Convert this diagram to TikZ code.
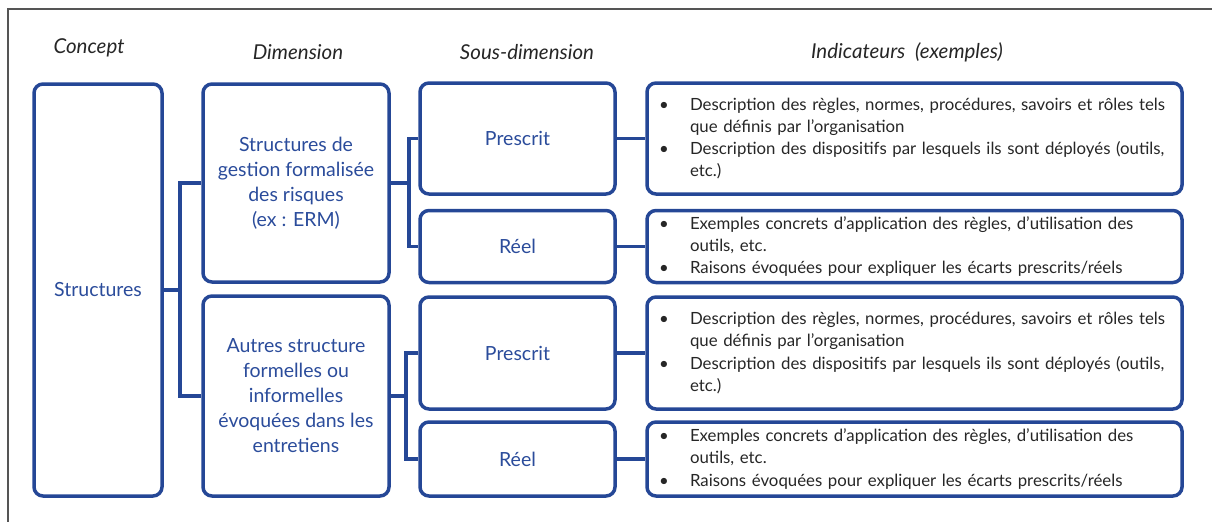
\documentclass[tikz,border=0pt]{standalone}
\usepackage{fontspec}
\setmainfont{Lato}
\definecolor{bleu}{HTML}{254796}
\definecolor{texte}{HTML}{2B4C9B}
\definecolor{gris}{HTML}{555555}
\definecolor{noir}{HTML}{262626}
\newcommand{\puce}{\makebox[31pt][l]{\textbullet}}
\newcommand{\suite}{\hspace*{31pt}}

\begin{document}
\begin{tikzpicture}[x=1pt, y=-1pt,
    boite/.style={draw=bleu, line width=3.5pt, rounded corners=9pt, text=texte,
      align=center, inner sep=0pt, font=\fontsize{19.5}{25}\selectfont},
    indic/.style={draw=bleu, line width=3.5pt, rounded corners=9pt, text=noir,
      align=left, text width=511pt, inner xsep=12pt, inner ysep=0pt,
      font=\fontsize{16.8}{22.3}\selectfont},
    titre/.style={text=noir, font=\fontsize{20.5}{24}\selectfont\itshape},
    lien/.style={draw=bleu, line width=3.5pt}]
    \useasboundingbox (0,0) rectangle (1212,522);

    % draw frame
    \draw[gris, line width=2pt] (1212,9) -- (8,9) -- (8,522);

    % draw column titles
    \foreach \n/\x/\y/\t in {tconcept/89/48/Concept, tdim/298/52/Dimension,
        tsous/527/52/Sous-dimension, tind/907/52/{Indicateurs~ (exemples)}}
      \node[titre] (\n) at (\x,\y) {\t};

    % draw concept and dimensions
    \node[boite, minimum width=128pt, minimum height=412pt] (concept) at (98,290) {Structures};
    \node[boite, minimum width=186pt, minimum height=198pt] (dim1) at (296,183)
      {Structures de\\gestion formalisée\\des risques\\(ex : ERM)};
    \node[boite, minimum width=186pt, minimum height=200pt] (dim2) at (296,396)
      {Autres structure\\formelles ou\\informelles\\évoquées dans les\\entretiens};

    % draw sous-dimensions
    \node[boite, minimum width=195pt, minimum height=111pt] (sp1) at (517.5,138.5) {Prescrit};
    \node[boite, minimum width=195pt, minimum height=72pt] (sr1) at (517.5,246.5) {Réel};
    \node[boite, minimum width=195pt, minimum height=112pt] (sp2) at (517.5,353) {Prescrit};
    \node[boite, minimum width=195pt, minimum height=74pt] (sr2) at (517.5,459) {Réel};

    % draw indicateurs
    \node[indic, minimum height=111pt] (ip1) at (914.5,138.5)
      {\puce Description des règles, normes, procédures, savoirs et rôles tels\\
       \suite que définis par l’organisation\\
       \puce Description des dispositifs par lesquels ils sont déployés (outils,\\
       \suite etc.)};
    \node[indic, minimum height=72pt] (ir1) at (914.5,246.5)
      {\puce Exemples concrets d’application des règles, d’utilisation des\\
       \suite outils, etc.\\
       \puce Raisons évoquées pour expliquer les écarts prescrits/réels};
    \node[indic, minimum height=112pt] (ip2) at (914.5,353)
      {\puce Description des règles, normes, procédures, savoirs et rôles tels\\
       \suite que définis par l’organisation\\
       \puce Description des dispositifs par lesquels ils sont déployés (outils,\\
       \suite etc.)};
    \node[indic, minimum height=74pt] (ir2) at (914.5,459)
      {\puce Exemples concrets d’application des règles, d’utilisation des\\
       \suite outils, etc.\\
       \puce Raisons évoquées pour expliquer les écarts prescrits/réels};

    % draw links
    \draw[lien] (concept.east) -- ++(16,0);
    \draw[lien] (dim1.west) -| ([xshift=16pt]concept.east) |- (dim2.west);
    \draw[lien] (dim1.east) -- ++(18,0);
    \draw[lien] (sp1.west) -| ([xshift=18pt]dim1.east) |- (sr1.west);
    \draw[lien] (dim2.east) -- ++(15,0);
    \draw[lien] (sp2.west) -| ([xshift=15pt]dim2.east) |- (sr2.west);
    \foreach \a/\b in {sp1/ip1, sr1/ir1, sp2/ip2, sr2/ir2}
      \draw[lien] (\a) -- (\b);
  \end{tikzpicture}
\end{document}
